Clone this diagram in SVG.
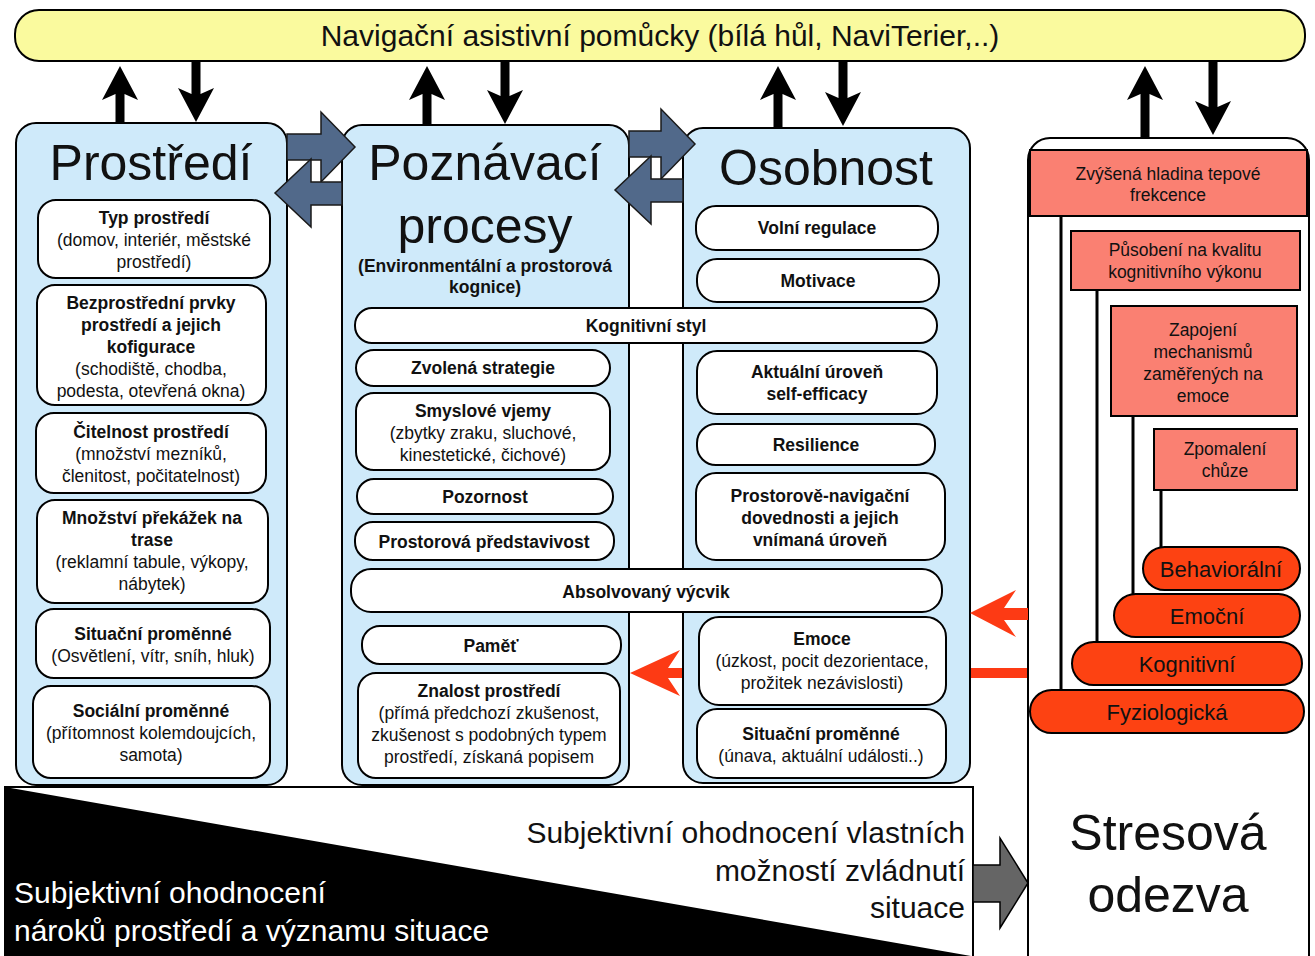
<svg xmlns="http://www.w3.org/2000/svg" width="1315" height="956" viewBox="0 0 1315 956">
<style>
.col{fill:#cfeafa;stroke:#000;stroke-width:2}
.box{fill:#fff;stroke:#000;stroke-width:2}
.red{fill:#fa8072;stroke:#000;stroke-width:2}
.pill{fill:#fd4212;stroke:#000;stroke-width:2}
.slate{fill:#51698a;stroke:#1a1a1a;stroke-width:1.5}
.blk{fill:#000}
.t{font-family:"Liberation Sans",Arial,Helvetica,sans-serif;font-size:17.5px;text-anchor:middle;fill:#111}
.b{font-weight:bold}
.title{font-size:50px}
.pt{font-size:22px}
.big{font-size:30px}
</style>
<rect width="1315" height="956" fill="#fff"/>

<!-- top bar -->
<g id="nav">
<rect x="15" y="10" width="1290" height="51" rx="24" fill="#fafa9e" stroke="#000" stroke-width="2"/>
<text class="t big" x="660" y="46">Navigační asistivní pomůcky (bílá hůl, NaviTerier,..)</text>
</g>

<!-- red arrows behind columns -->
<g id="red-connectors" fill="#fd3a14">
<path d="M630,673 L680,650 L668,668 H1028 V678 H668 L680,696 Z"/>
</g>

<!-- Prostředí column -->
<g id="prostredi">
<rect class="col" x="16" y="123" width="271" height="662" rx="20"/>
<text class="t title" x="151" y="180">Prostředí</text>
<rect class="box" x="38" y="200" width="232" height="78" rx="18"/>
<text class="t b" x="154" y="224">Typ prostředí</text>
<text class="t" x="154" y="246">(domov, interiér, městské</text>
<text class="t" x="154" y="268">prostředí)</text>
<rect class="box" x="37" y="285" width="229" height="120" rx="18"/>
<text class="t b" x="151" y="309">Bezprostřední prvky</text>
<text class="t b" x="151" y="331">prostředí a jejich</text>
<text class="t b" x="151" y="353">kofigurace</text>
<text class="t" x="151" y="375">(schodiště, chodba,</text>
<text class="t" x="151" y="397">podesta, otevřená okna)</text>
<rect class="box" x="36" y="413" width="230" height="80" rx="18"/>
<text class="t b" x="151" y="438">Čitelnost prostředí</text>
<text class="t" x="151" y="460">(množství mezníků,</text>
<text class="t" x="151" y="482">členitost, počitatelnost)</text>
<rect class="box" x="37" y="500" width="231" height="103" rx="18"/>
<text class="t b" x="152" y="524">Množství překážek na</text>
<text class="t b" x="152" y="546">trase</text>
<text class="t" x="152" y="568">(reklamní tabule, výkopy,</text>
<text class="t" x="152" y="590">nábytek)</text>
<rect class="box" x="36" y="609" width="234" height="69" rx="18"/>
<text class="t b" x="153" y="640">Situační proměnné</text>
<text class="t" x="153" y="662">(Osvětlení, vítr, sníh, hluk)</text>
<rect class="box" x="33" y="686" width="237" height="92" rx="18"/>
<text class="t b" x="151" y="717">Sociální proměnné</text>
<text class="t" x="151" y="739">(přítomnost kolemdoujcích,</text>
<text class="t" x="151" y="761">samota)</text>
</g>

<!-- Poznávací procesy column -->
<g id="poznavaci">
<rect class="col" x="342" y="125" width="287" height="660" rx="20"/>
<text class="t title" x="485" y="180">Poznávací</text>
<text class="t title" x="485" y="243">procesy</text>
<text class="t b" x="485" y="272">(Environmentální a prostorová</text>
<text class="t b" x="485" y="293">kognice)</text>
<rect class="box" x="356" y="350" width="254" height="36" rx="18"/>
<text class="t b" x="483" y="374">Zvolená strategie</text>
<rect class="box" x="356" y="393" width="254" height="77" rx="18"/>
<text class="t b" x="483" y="417">Smyslové vjemy</text>
<text class="t" x="483" y="439">(zbytky zraku, sluchové,</text>
<text class="t" x="483" y="461">kinestetické, čichové)</text>
<rect class="box" x="357" y="479" width="256" height="35" rx="17"/>
<text class="t b" x="485" y="503">Pozornost</text>
<rect class="box" x="355" y="522" width="259" height="38" rx="18"/>
<text class="t b" x="484" y="548">Prostorová představivost</text>
<rect class="box" x="362" y="626" width="259" height="38" rx="18"/>
<text class="t b" x="491" y="652">Paměť</text>
<rect class="box" x="358" y="673" width="262" height="105" rx="18"/>
<text class="t b" x="489" y="697">Znalost prostředí</text>
<text class="t" x="489" y="719">(přímá předchozí zkušenost,</text>
<text class="t" x="489" y="741">zkušenost s podobných typem</text>
<text class="t" x="489" y="763">prostředí, získaná popisem</text>
</g>

<!-- Osobnost column -->
<g id="osobnost">
<rect class="col" x="683" y="128" width="287" height="655" rx="20"/>
<text class="t title" x="826" y="185">Osobnost</text>
<rect class="box" x="696" y="206" width="242" height="44" rx="20"/>
<text class="t b" x="817" y="234">Volní regulace</text>
<rect class="box" x="697" y="259" width="242" height="43" rx="20"/>
<text class="t b" x="818" y="287">Motivace</text>
<rect class="box" x="697" y="351" width="240" height="63" rx="20"/>
<text class="t b" x="817" y="378">Aktuální úroveň</text>
<text class="t b" x="817" y="400">self-efficacy</text>
<rect class="box" x="697" y="424" width="238" height="41" rx="19"/>
<text class="t b" x="816" y="451">Resilience</text>
<rect class="box" x="696" y="473" width="249" height="87" rx="20"/>
<text class="t b" x="820" y="502">Prostorově-navigační</text>
<text class="t b" x="820" y="524">dovednosti a jejich</text>
<text class="t b" x="820" y="546">vnímaná úroveň</text>
<rect class="box" x="699" y="617" width="247" height="88" rx="20"/>
<text class="t b" x="822" y="645">Emoce</text>
<text class="t" x="822" y="667">(úzkost, pocit dezorientace,</text>
<text class="t" x="822" y="689">prožitek nezávislosti)</text>
<rect class="box" x="697" y="709" width="249" height="69" rx="20"/>
<text class="t b" x="821" y="740">Situační proměnné</text>
<text class="t" x="821" y="762">(únava, aktuální události..)</text>
</g>

<!-- spanning boxes -->
<g id="kognitivni-styl">
<rect class="box" x="355" y="308" width="582" height="35" rx="17"/>
<text class="t b" x="646" y="332">Kognitivní styl</text>
</g>
<g id="absolvovany-vycvik">
<rect class="box" x="351" y="569" width="591" height="43" rx="20"/>
<text class="t b" x="646" y="598">Absolvovaný výcvik</text>
</g>

<!-- Stress response column -->
<g id="stresova-odezva">
<rect class="box" x="1028" y="138" width="281" height="840" rx="22"/>
<text class="t title" x="1168" y="850">Stresová</text>
<text class="t title" x="1168" y="912">odezva</text>
</g>
<g id="stress-lines" stroke="#000" stroke-width="3">
<line x1="1061" y1="216" x2="1061" y2="691"/>
<line x1="1097" y1="290" x2="1097" y2="643"/>
<line x1="1133" y1="416" x2="1133" y2="595"/>
<line x1="1161" y1="490" x2="1161" y2="548"/>
</g>
<g id="tepova-frekvence">
<rect class="red" x="1030" y="150" width="277" height="66"/>
<text class="t" x="1168" y="180">Zvýšená hladina tepové</text>
<text class="t" x="1168" y="201">frekcence</text>
</g>
<g id="kognitivni-vykon">
<rect class="red" x="1071" y="231" width="229" height="59"/>
<text class="t" x="1185" y="256">Působení na kvalitu</text>
<text class="t" x="1185" y="278">kognitivního výkonu</text>
</g>
<g id="mechanismy">
<rect class="red" x="1111" y="306" width="186" height="110"/>
<text class="t" x="1203" y="336">Zapojení</text>
<text class="t" x="1203" y="358">mechanismů</text>
<text class="t" x="1203" y="380">zaměřených na</text>
<text class="t" x="1203" y="402">emoce</text>
</g>
<g id="zpomaleni">
<rect class="red" x="1154" y="429" width="143" height="61"/>
<text class="t" x="1225" y="455">Zpomalení</text>
<text class="t" x="1225" y="477">chůze</text>
</g>
<g id="behavioralni">
<rect class="pill" x="1143" y="547" width="157" height="43" rx="21.5"/>
<text class="t pt" x="1221" y="577">Behaviorální</text>
</g>
<g id="emocni">
<rect class="pill" x="1114" y="594" width="186" height="43" rx="21.5"/>
<text class="t pt" x="1207" y="624">Emoční</text>
</g>
<g id="kognitivni">
<rect class="pill" x="1072" y="642" width="230" height="43" rx="21.5"/>
<text class="t pt" x="1187" y="672">Kognitivní</text>
</g>
<g id="fyziologicka">
<rect class="pill" x="1030" y="690" width="274" height="43" rx="21.5"/>
<text class="t pt" x="1167" y="720">Fyziologická</text>
</g>

<!-- bottom appraisal area -->
<g id="hodnoceni">
<rect x="5" y="787" width="968" height="175" fill="#fff" stroke="#000" stroke-width="2"/>
<polygon points="5,787 971,956 5,956" fill="#000"/>
<text class="t big" x="14" y="903" style="text-anchor:start;fill:#fff">Subjektivní ohodnocení</text>
<text class="t big" x="14" y="941" style="text-anchor:start;fill:#fff">nároků prostředí a významu situace</text>
<text class="t big" x="965" y="843" style="text-anchor:end">Subjektivní ohodnocení vlastních</text>
<text class="t big" x="965" y="881" style="text-anchor:end">možností zvládnutí</text>
<text class="t big" x="965" y="918" style="text-anchor:end">situace</text>
</g>

<!-- connectors -->
<g id="connectors">
<g class="blk">
<path d="M115.5,123 V94 L102,100 L120,66 L138,100 L124.5,94 V123 Z"/>
<path d="M191.5,61 V94 L178,88 L196,122 L214,88 L200.5,94 V61 Z"/>
<path d="M422.5,125 V94 L409,100 L427,66 L445,100 L431.5,94 V125 Z"/>
<path d="M500.5,61 V96 L487,90 L505,124 L523,90 L509.5,96 V61 Z"/>
<path d="M773.5,128 V94 L760,100 L778,66 L796,100 L782.5,94 V128 Z"/>
<path d="M838.5,61 V98 L825,92 L843,126 L861,92 L847.5,98 V61 Z"/>
<path d="M1140.5,138 V94 L1127,100 L1145,66 L1163,100 L1149.5,94 V138 Z"/>
<path d="M1208.5,61 V107 L1195,101 L1213,135 L1231,101 L1217.5,107 V61 Z"/>
</g>
<path class="slate" d="M287,134 H321 V112 L355,147 L321,182 V160 H287 Z"/>
<path class="slate" d="M342,182 H311 V159 L275,193 L311,227 V205 H342 Z"/>
<path class="slate" d="M629,131 H661 V109 L695,144 L661,179 V157 H629 Z"/>
<path class="slate" d="M683,179 H651 V156 L615,190 L651,224 V202 H683 Z"/>
<path fill="#fd3a14" d="M970,613 L1016,590 L1004,608 H1028 V620 H1004 L1016,637 Z"/>
<path fill="#656565" stroke="#000" stroke-width="1.5" d="M973,865 H1000 V838 L1028,883 L1000,928 V902 H973 Z"/>
</g>
</svg>
